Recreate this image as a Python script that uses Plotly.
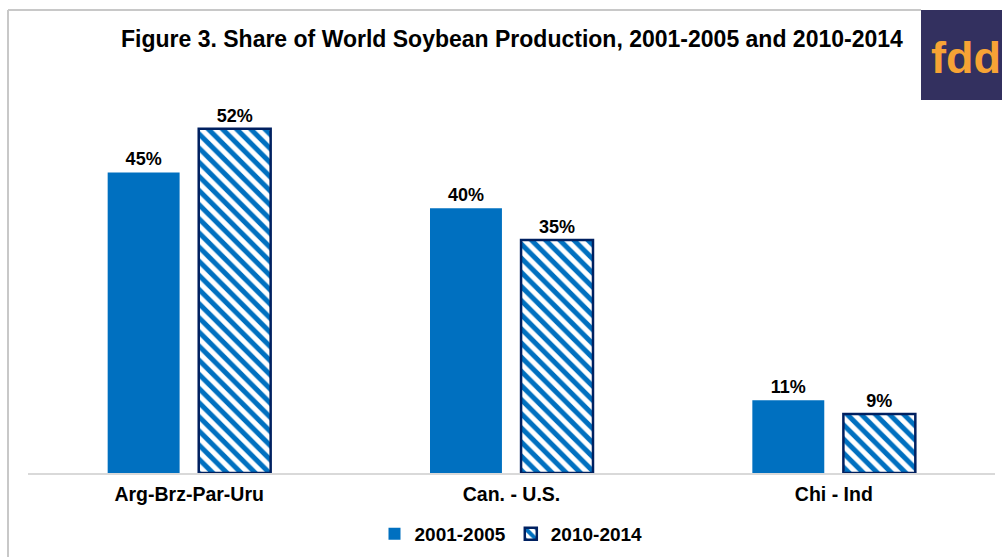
import plotly.graph_objects as go

categories = ["Arg-Brz-Par-Uru", "Can. - U.S.", "Chi - Ind"]
share_2001_2005 = [45.4, 40.0, 11.0]
share_2010_2014 = [52.0, 35.2, 8.9]
series_names = ["2001-2005", "2010-2014"]
title_text = "Figure 3. Share of World Soybean Production, 2001-2005 and 2010-2014"

W, H = 1002, 557
L, R, T, B = 28, 7, 76, 84
pw, ph = W - L - R, H - T - B

def px(x):
    return (x - L) / pw

def py(y):
    return (H - B - y) / ph

label_font = dict(family="Arial", size=18, color="#000000", weight="bold")

fig = go.Figure()
fig.add_trace(go.Bar(
    x=categories, y=share_2001_2005, name=series_names[0],
    marker=dict(color="#0070C0", line=dict(width=0)),
    texttemplate="%{y:.0f}%", textposition="outside",
    textfont=label_font, cliponaxis=False,
))
fig.add_trace(go.Bar(
    x=categories, y=share_2010_2014, name=series_names[1],
    marker=dict(color="#FFFFFF", line=dict(width=2.5, color="#002060"),
                pattern=dict(shape="\\", fgcolor="#0070C0", bgcolor="#FFFFFF",
                             fgopacity=1, size=10, solidity=0.5)),
    texttemplate="%{y:.0f}%", textposition="outside",
    textfont=label_font, cliponaxis=False,
))

fig.update_layout(
    width=W, height=H,
    margin=dict(l=L, r=R, t=T, b=B, autoexpand=False),
    paper_bgcolor="white", plot_bgcolor="white",
    barmode="group", bargap=0.435, bargroupgap=0.21,
    font=dict(family="Arial", color="#000000"),
    showlegend=True,
    legend=dict(orientation="h", x=px(511), xanchor="center", y=py(534), yanchor="middle",
                font=dict(family="Arial", size=19, color="#000000", weight="bold"),
                itemwidth=30, traceorder="normal"),
    xaxis=dict(showline=True, linecolor="#D9D9D9", linewidth=2, ticks="",
               ticklabelstandoff=3, automargin=False,
               tickfont=dict(family="Arial", size=19.5, color="#000000", weight="bold"),
               showgrid=False, zeroline=False, fixedrange=True),
    yaxis=dict(range=[0, ph / 6.62], visible=False, showgrid=False, zeroline=False,
               automargin=False),
)

# title
fig.add_annotation(text=title_text, xref="paper", yref="paper", x=px(512), y=py(39),
                   xanchor="center", yanchor="middle", showarrow=False,
                   font=dict(family="Arial", size=23, color="#000000", weight="bold"))

# chart border (left and top)
fig.add_shape(type="line", xref="paper", yref="paper", x0=px(8), x1=px(8), y0=py(10), y1=py(560),
              line=dict(color="#C8C8C8", width=2))
fig.add_shape(type="line", xref="paper", yref="paper", x0=px(8), x1=px(921), y0=py(10), y1=py(10),
              line=dict(color="#C8C8C8", width=2))

# logo
fig.add_shape(type="rect", xref="paper", yref="paper", x0=px(921), x1=px(1004), y0=py(10), y1=py(100),
              fillcolor="#33305F", line=dict(width=0), layer="above")
fig.add_annotation(text="fdd", xref="paper", yref="paper", x=px(929), y=py(58),
                   xanchor="left", yanchor="middle", showarrow=False,
                   font=dict(family="Arial", size=45, color="#F7A335", weight="bold"))

fig.write_html("out.html", config={"displayModeBar": False},
               post_script="document.body.style.margin='0';")
